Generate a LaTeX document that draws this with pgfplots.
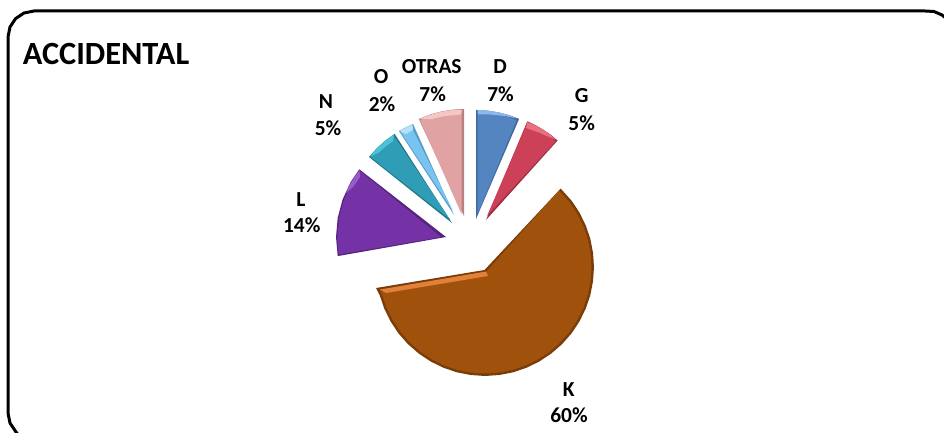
\documentclass[border=0pt]{standalone}
\usepackage{pgfplots}
\pgfplotsset{compat=1.18}
\usepackage{fontspec}
\setmainfont{Carlito}
\definecolor{Ddark}{HTML}{3E6A9E}\definecolor{Dmain}{HTML}{5585C0}\definecolor{Dlight}{HTML}{8DB8EE}
\definecolor{Gdark}{HTML}{9C2E44}\definecolor{Gmain}{HTML}{CC4058}\definecolor{Glight}{HTML}{E8707F}
\definecolor{Kdark}{HTML}{7A3D0A}\definecolor{Kmain}{HTML}{A0510C}\definecolor{Klight}{HTML}{E27F38}
\definecolor{Ldark}{HTML}{55247E}\definecolor{Lmain}{HTML}{7432A6}\definecolor{Llight}{HTML}{9A5CCB}
\definecolor{Ndark}{HTML}{1F7585}\definecolor{Nmain}{HTML}{2F9DB5}\definecolor{Nlight}{HTML}{4CC3DA}
\definecolor{Odark}{HTML}{5A9CC8}\definecolor{Omain}{HTML}{78C4F0}\definecolor{Olight}{HTML}{B4E2FA}
\definecolor{Tdark}{HTML}{B88080}\definecolor{Tmain}{HTML}{E0A2A2}\definecolor{Tlight}{HTML}{F4C6C4}
\newcommand{\lab}[4]{\node[anchor=base,inner sep=0pt,font=\fontsize{#1}{#1}\selectfont\bfseries] at (axis cs:#2,#3) {#4};}
\begin{document}
\begin{tikzpicture}
\begin{axis}[hide axis,scale only axis,width=944bp,height=433bp,xmin=0,xmax=944,ymin=0,ymax=433,y dir=reverse,clip=true]
\addplot[fill=white,draw=none] coordinates {(0,0)(944,0)(944,433)(0,433)};
% frame
\addplot[black,line width=3bp] coordinates {(19,436)(15.6,431.4)(10,423)(8,413)(8,37)(10,27)(15.6,18.6)(24,13)(34,11)(925,11)(934,11.5)(942,15)(947,19)};
% D
\addplot[fill=Ddark,draw=none] coordinates {(476,219)(476,110)(487.4,110.6)(498.7,112.4)(509.7,115.3)(519.1,118.9)};
\addplot[fill=Dmain,draw=none] coordinates {(477.5,214)(477.5,112)(487.4,113)(498.7,114.5)(509.7,117.5)(516.5,120.5)};
\addplot[fill=Dlight,draw=none] coordinates {(477.5,110)(487.4,110.6)(498.7,112.4)(509.7,115.3)(517,118.5)(505,116)(490,114.5)(478,114.5)};
% G
\addplot[fill=Gdark,draw=none] coordinates {(486,220)(527.3,121.3)(534.6,124.7)(542.7,129.3)(550.4,134.5)(557.6,140.5)};
\addplot[fill=Gmain,draw=none] coordinates {(487,216)(527,123.5)(534,126.5)(542,131.5)(549.5,136.5)(555.5,141.5)};
\addplot[fill=Glight,draw=none] coordinates {(527.3,122)(534.6,125)(542.7,129.6)(550.4,134.8)(556,140)(540,133)(526,128)};
% K
\addplot[fill=Kdark,draw=none] coordinates {(484.5,270)(560.7,188.6)(571.5,200.6)(579.4,212.5)(585.7,225.3)(590.3,238.8)(593,252.7)(594,267)(593,281.3)(590.3,295.2)(585.7,308.7)(579.4,321.5)(571.5,333.4)(562.1,344.1)(551.4,353.4)(539.5,361.4)(526.7,367.7)(513.2,372.3)(499.3,375)(485,376)(470.7,375)(456.8,372.3)(443.3,367.7)(430.5,361.4)(418.6,353.4)(407.9,344.1)(398.5,333.4)(390.6,321.5)(384.3,308.7)(379.7,295.2)(376,288)};
\addplot[fill=Kmain,draw=none] coordinates {(486,272)(559,190.4)(569.5,202.1)(577.2,213.8)(583.4,226.2)(587.9,239.4)(590.6,253.1)(591.5,267)(590.6,280.9)(587.9,294.6)(583.4,307.8)(577.2,320.3)(569.5,331.9)(560.3,342.3)(549.9,351.5)(538.3,359.2)(525.8,365.4)(512.6,369.9)(499,372.5)(485,373.5)(471,372.5)(457.4,369.9)(444.2,365.4)(431.7,359.2)(420.1,351.5)(409.7,342.3)(400.5,331.9)(392.8,320.3)(386.6,307.8)(382.1,294.6)(380,290)};
\addplot[fill=Klight,draw=none] coordinates {(380,289.5)(486,271.5)(488,276)(386,293)};
% L
\addplot[fill=Ldark,draw=none] coordinates {(446,237)(359.3,169.3)(350.7,182)(342.6,199.4)(337.7,217.9)(336,237)(337.7,256.1)};
\addplot[fill=Lmain,draw=none] coordinates {(441,237)(360,171)(351.5,183)(343.8,200)(339,218.2)(337.3,237)(338.5,254.5)};
\addplot[fill=Llight,draw=none] coordinates {(359.5,170)(351,182.5)(346,193)(353,187)(360,177)};
% N
\addplot[fill=Ndark,draw=none] coordinates {(452,223)(369,157)(377,148)(385.3,140.6)(394.6,133.9)};
\addplot[fill=Nmain,draw=none] coordinates {(450,219.5)(370.5,157)(378,149)(386,142)(394,136)};
\addplot[fill=Nlight,draw=none] coordinates {(370,156.5)(377,148.5)(385.3,141)(394,134.5)(393,141)(385,147)(378,153)};
% O
\addplot[fill=Odark,draw=none] coordinates {(454,215)(399,131)(406,127.3)(413,124)};
\addplot[fill=Omain,draw=none] coordinates {(453,211)(401,132.5)(406,129.5)(411.5,127)};
\addplot[fill=Olight,draw=none] coordinates {(399.5,131)(406,127.6)(412.5,124.5)(413,130)(406,134)};
% OTRAS
\addplot[fill=Tdark,draw=none] coordinates {(464,216)(464,109)(452.8,109.6)(441.8,111.3)(430.9,114.2)(418.8,119)};
\addplot[fill=Tmain,draw=none] coordinates {(461.5,214)(461.5,111)(452.8,112)(441.8,114)(430.9,117)(420,120)};
\addplot[fill=Tlight,draw=none] coordinates {(462,110)(452.8,110)(441.8,111.6)(430.9,114.5)(419.5,119.2)(432,119)(445,116)(461,114.5)};
% labels
\lab{32.5}{106}{65}{ACCIDENTAL}
\lab{21.5}{500}{73.5}{D}\lab{21.5}{500.5}{101.5}{7\%}
\lab{21.5}{581.7}{102.5}{G}\lab{21.5}{581.7}{130}{5\%}
\lab{21.5}{568.7}{396}{K}\lab{21.5}{569}{422.7}{60\%}
\lab{21.5}{301}{206.7}{L}\lab{21.5}{301.7}{232.7}{14\%}
\lab{21.5}{326}{108}{N}\lab{21.5}{328}{135}{5\%}
\lab{21.5}{381}{84}{O}\lab{21.5}{382}{111.7}{2\%}
\lab{21.5}{431.7}{73.5}{OTRAS}\lab{21.5}{432.7}{101.5}{7\%}
\end{axis}
\end{tikzpicture}
\end{document}
